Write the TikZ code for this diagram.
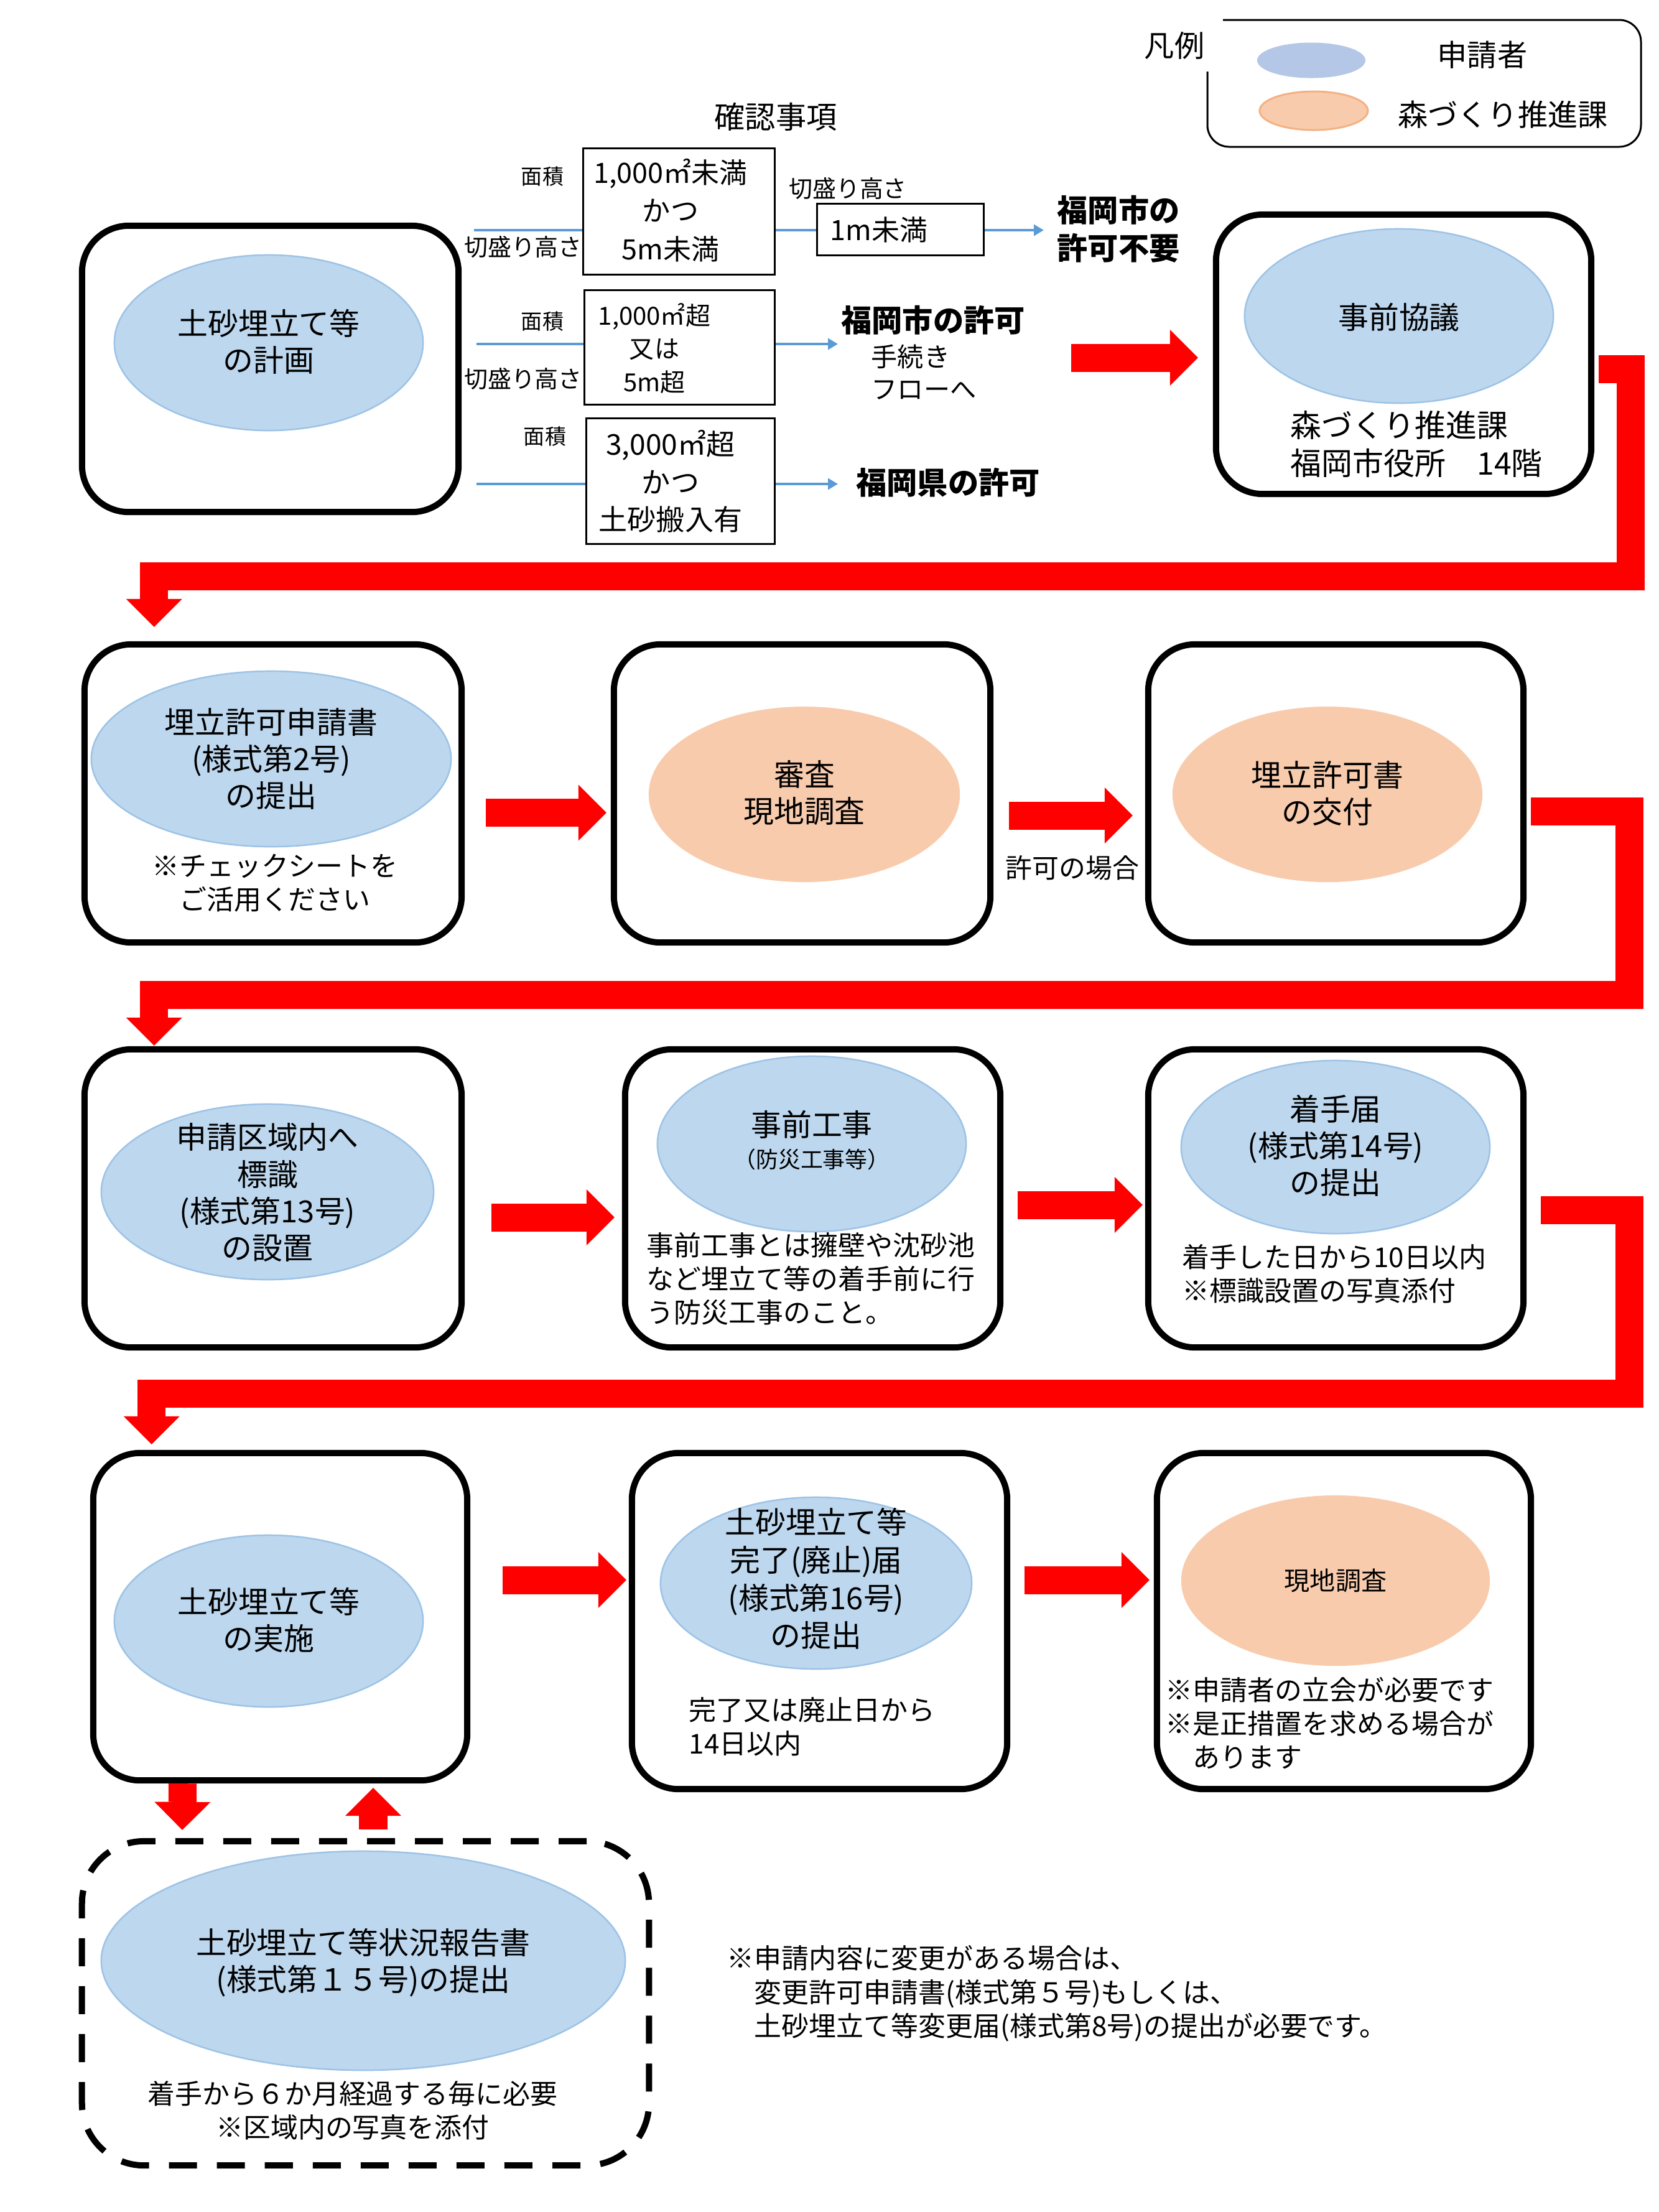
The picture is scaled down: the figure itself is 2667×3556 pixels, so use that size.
\documentclass[tikz,border=0pt]{standalone}
\usepackage{fontspec}
\setmainfont{Noto Sans CJK JP}
\usetikzlibrary{shapes.geometric,arrows.meta,calc}
\definecolor{ellblue}{HTML}{BDD7EE}
\definecolor{ellblueline}{HTML}{9DC3E6}
\definecolor{legblue}{HTML}{B4C7E7}
\definecolor{ellorange}{HTML}{F8CBAD}
\definecolor{orangeline}{HTML}{F4B183}
\definecolor{lineblue}{HTML}{5B9BD5}
\definecolor{flowred}{HTML}{FF0000}
\begin{document}
\begin{tikzpicture}[x=0.01cm,y=-0.01cm,
  stepbox/.style={draw=black, line width=0.1cm, rounded corners=0.75cm, rectangle, inner sep=0pt},
  condbox/.style={draw=black, line width=0.03cm, rectangle, inner sep=0pt},
  blueell/.style={ellipse, fill=ellblue, draw=ellblueline, line width=0.025cm, inner sep=0pt},
  orangeell/.style={ellipse, fill=ellorange, inner sep=0pt},
  elltext/.style={inner sep=0pt, align=center, font=\fontsize{13.9}{16.8}\selectfont},
  notetext/.style={inner sep=0pt, align=left, font=\fontsize{12.5}{15.4}\selectfont},
  notecenter/.style={inner sep=0pt, align=center, font=\fontsize{12.5}{15.4}\selectfont},
  arealabel/.style={inner sep=0pt, font=\fontsize{9.7}{11}\selectfont},
  heightlabel/.style={inner sep=0pt, font=\fontsize{10.8}{12}\selectfont},
  resulttext/.style={inner sep=0pt, align=left, font=\bfseries\fontsize{14}{17.4}\selectfont},
  blueline/.style={draw=lineblue, line width=0.035cm},
  bluearrow/.style={blueline, -{Triangle[width=0.18cm,length=0.16cm]}},
  redarrow/.style={draw=flowred, line width=0.45cm, -{Triangle[width=0.9cm,length=0.45cm,line width=0pt]}},
]
\useasboundingbox (0,0) rectangle (2667,3556);
\fill[white] (0,0) rectangle (2667,3556);

% ---------- legend ----------
\node[inner sep=0pt, font=\fontsize{13.7}{16}\selectfont] (lgT) at (1888,73) {凡例};
\draw[line width=0.03cm, rounded corners=0.35cm] (1941,115) -- (1941,236) -- (2638,236) -- (2638,32) -- (1966,32);
\node[ellipse, fill=legblue, inner sep=0pt, minimum width=1.74cm, minimum height=0.57cm] (lgEA) at (2108,97) {};
\node[ellipse, fill=ellorange, draw=orangeline, line width=0.03cm, inner sep=0pt, minimum width=1.74cm, minimum height=0.62cm] (lgEB) at (2112,178) {};
\node[inner sep=0pt, font=\fontsize{13.7}{16}\selectfont] (lgA) at (2383,88) {申請者};
\node[inner sep=0pt, font=\fontsize{13.7}{16}\selectfont] (lgB) at (2416,184) {森づくり推進課};

% ---------- row 0 ----------
\node[inner sep=0pt, font=\fontsize{14}{16}\selectfont] (ttl) at (1247,188) {確認事項};

\node[stepbox, minimum width=6.05cm, minimum height=4.6cm] (P) at (434.5,593) {};
\node[blueell, minimum width=4.96cm, minimum height=2.82cm] (Pe) at (432,551) {};
\node[elltext] (Pt) at (432,549) {土砂埋立て等\\の計画};

\node[condbox, minimum width=3.07cm, minimum height=2.02cm] (b1) at (1091.5,340) {};
\node[inner sep=0pt, align=center, font=\fontsize{12.8}{17.5}\selectfont] (b1t) at (1078,338) {1,000㎡未満\\かつ\\5m未満};
\node[condbox, minimum width=2.67cm, minimum height=0.82cm] (r1) at (1447.5,369) {};
\node[inner sep=0pt, anchor=west, font=\fontsize{12.8}{15}\selectfont] (r1t) at (1334,369) {1m未満};
\node[condbox, minimum width=3.05cm, minimum height=1.83cm] (b2) at (1092.5,558.5) {};
\node[inner sep=0pt, align=center, font=\fontsize{11.4}{15.2}\selectfont] (b2t) at (1052,560) {1,000㎡超\\又は\\5m超};
\node[condbox, minimum width=3.02cm, minimum height=2.01cm] (b3) at (1094,773.5) {};
\node[inner sep=0pt, align=center, font=\fontsize{13.1}{17.2}\selectfont] (b3t) at (1078,774) {3,000㎡超\\かつ\\土砂搬入有};

\node[arealabel] (m1) at (872,284) {面積};
\node[heightlabel] (k1) at (841,397) {切盛り高さ};
\node[heightlabel] (k1r) at (1363,303) {切盛り高さ};
\node[arealabel] (m2) at (872,517) {面積};
\node[heightlabel] (k2) at (841,609) {切盛り高さ};
\node[arealabel] (m3) at (876,702) {面積};

\coordinate (s1) at (762,370);
\coordinate (s2) at (766,553);
\coordinate (s3) at (766,778);
\coordinate (e1) at (1678,370);
\coordinate (e2) at (1347,553);
\coordinate (e3) at (1347,778);
\draw[blueline] (s1) -- (b1.west |- s1);
\draw[blueline] (b1.east |- s1) -- (r1.west |- s1);
\draw[bluearrow] (r1.east |- s1) -- (e1);
\draw[blueline] (s2) -- (b2.west |- s2);
\draw[bluearrow] (b2.east |- s2) -- (e2);
\draw[blueline] (s3) -- (b3.west |- s3);
\draw[bluearrow] (b3.east |- s3) -- (e3);

\node[resulttext, anchor=west] (t1) at (1699,368) {福岡市の\\許可不要};
\node[resulttext] (t2) at (1500,515) {福岡市の許可};
\node[inner sep=0pt, anchor=west, align=left, font=\fontsize{12}{14.8}\selectfont] (t3) at (1400,598) {手続き\\フローへ};
\node[resulttext] (t4) at (1524,776) {福岡県の許可};

\node[stepbox, minimum width=6.03cm, minimum height=4.49cm] (J) at (2256.5,569.5) {};
\node[blueell, minimum width=4.96cm, minimum height=2.8cm] (Je) at (2249,508) {};
\node[elltext] (Jt) at (2249,510) {事前協議};
\node[inner sep=0pt, anchor=west, align=left, font=\fontsize{14.2}{17.1}\selectfont] (Jn) at (2074,714) {森づくり推進課\\福岡市役所　14階};

\coordinate (pj0) at (1722,575);
\draw[redarrow] (pj0) -- ($(J.west |- pj0)+(-24,0)$);

% ---------- row 1 ----------
\node[stepbox, minimum width=6.06cm, minimum height=4.79cm] (A) at (439,1275.5) {};
\node[blueell, minimum width=5.78cm, minimum height=2.82cm] (Ae) at (436,1220) {};
\node[elltext] (At) at (436,1220) {埋立許可申請書\\(様式第2号)\\の提出};
\node[notecenter] (An) at (442,1420) {※チェックシートを\\ご活用ください};

\node[stepbox, minimum width=6.05cm, minimum height=4.79cm] (B) at (1289.5,1275.5) {};
\node[orangeell, minimum width=5.0cm, minimum height=2.82cm] (Be) at (1293,1277) {};
\node[elltext] (Bt) at (1293,1275) {審査\\現地調査};

\node[stepbox, minimum width=6.03cm, minimum height=4.79cm] (C) at (2147.5,1275.5) {};
\node[orangeell, minimum width=4.98cm, minimum height=2.82cm] (Ce) at (2134,1277) {};
\node[elltext] (Ct) at (2134,1275) {埋立許可書\\の交付};

\node[inner sep=0pt, font=\fontsize{12.2}{14}\selectfont] (Cl) at (1724,1395) {許可の場合};

\draw[redarrow] ($(A.east)+(34,31)$) -- ($(B.west)+(-7,31)$);
\draw[redarrow] ($(B.east)+(25,35.5)$) -- ($(C.west)+(-20,35.5)$);

% ---------- row 2 ----------
\node[stepbox, minimum width=6.06cm, minimum height=4.79cm] (D) at (439,1926.5) {};
\node[blueell, minimum width=5.34cm, minimum height=2.82cm] (De) at (430,1916) {};
\node[elltext] (Dt) at (430,1917) {申請区域内へ\\標識\\(様式第13号)\\の設置};

\node[stepbox, minimum width=6.03cm, minimum height=4.79cm] (E) at (1306.5,1926.5) {};
\node[blueell, minimum width=4.96cm, minimum height=2.82cm] (Ee) at (1305,1839) {};
\node[elltext] (Et) at (1305,1808) {事前工事};
\node[inner sep=0pt, font=\fontsize{10.2}{12}\selectfont] (Es) at (1305,1864) {（防災工事等）};
\node[notetext, anchor=west] (En) at (1039,2056) {事前工事とは擁壁や沈砂池\\など埋立て等の着手前に行\\う防災工事のこと。};

\node[stepbox, minimum width=6.03cm, minimum height=4.79cm] (F) at (2147.5,1926.5) {};
\node[blueell, minimum width=4.96cm, minimum height=2.78cm] (Fe) at (2147,1844) {};
\node[elltext] (Ft) at (2147,1842) {着手届\\(様式第14号)\\の提出};
\node[notetext, anchor=west] (Fn) at (1900,2048) {着手した日から10日以内\\※標識設置の写真添付};

\draw[redarrow] ($(D.east)+(43,30.5)$) -- ($(E.west)+(-12,30.5)$);
\draw[redarrow] ($(E.east)+(23,10.5)$) -- ($(F.west)+(-4,10.5)$);

% ---------- row 3 ----------
\node[stepbox, minimum width=6.01cm, minimum height=5.26cm] (G) at (450.5,2599) {};
\node[blueell, minimum width=4.96cm, minimum height=2.76cm] (Ge) at (432,2606) {};
\node[elltext] (Gt) at (432,2604) {土砂埋立て等\\の実施};

\node[stepbox, minimum width=6.03cm, minimum height=5.4cm] (H) at (1317.5,2606) {};
\node[blueell, minimum width=5.0cm, minimum height=2.76cm] (He) at (1312,2545) {};
\node[inner sep=0pt, align=center, font=\fontsize{13.9}{17.3}\selectfont] (Ht) at (1312,2538) {土砂埋立て等\\完了(廃止)届\\(様式第16号)\\の提出};
\node[notetext, anchor=west] (Hn) at (1107,2776) {完了又は廃止日から\\14日以内};

\node[stepbox, minimum width=6.01cm, minimum height=5.4cm] (I) at (2160.5,2606) {};
\node[orangeell, minimum width=4.96cm, minimum height=2.74cm] (Ie) at (2147,2541) {};
\node[inner sep=0pt, font=\fontsize{11.7}{14}\selectfont] (It) at (2147,2541) {現地調査};
\node[notetext, anchor=west] (In) at (1873,2770) {※申請者の立会が必要です\\※是正措置を求める場合が\\　あります};

\draw[redarrow] ($(G.east)+(52,-59)$) -- ($(H.west)+(-4,-66)$);
\draw[redarrow] ($(H.east)+(23,-66)$) -- ($(I.west)+(-7,-66)$);

% ---------- bent connectors ----------
\draw[redarrow] ($(J.east)+(7,23.5)$) -| ($(J.east)+(58,356.5)$) -| ($(A.north west)+(117,-23)$);
\draw[redarrow] ($(C.east)+(7,28.5)$) -| ($(C.east)+(165,323.5)$) -| ($(D.north west)+(117,-1)$);
\draw[redarrow] ($(F.east)+(23,18.5)$) -| ($(F.east)+(165,313.5)$) -| ($(G.north west)+(99,-9)$);

% ---------- row 4 ----------
\node[draw=black, line width=0.1cm, rounded corners=1cm, dash pattern=on 0.45cm off 0.32cm, rectangle, inner sep=0pt, minimum width=9.11cm, minimum height=5.21cm] (K) at (587.5,3220.5) {};
\node[blueell, minimum width=8.42cm, minimum height=3.52cm] (Ke) at (584,3152) {};
\node[elltext] (Kt) at (584,3155) {土砂埋立て等状況報告書\\(様式第１５号)の提出};
\node[notecenter] (Kn) at (567,3393) {着手から６か月経過する毎に必要\\※区域内の写真を添付};

\draw[redarrow] ($(G.south)+(-157,0)$) -- ($(K.north)+(-294.5,-13)$);
\draw[redarrow] ($(K.north)+(12.5,-14)$) -- ($(G.south)+(149.5,7)$);

\node[notetext, anchor=west, font=\fontsize{12.5}{15.5}\selectfont] (Nt) at (1168,3205) {※申請内容に変更がある場合は、\\　変更許可申請書(様式第５号)もしくは、\\　土砂埋立て等変更届(様式第8号)の提出が必要です。};
\end{tikzpicture}
\end{document}
